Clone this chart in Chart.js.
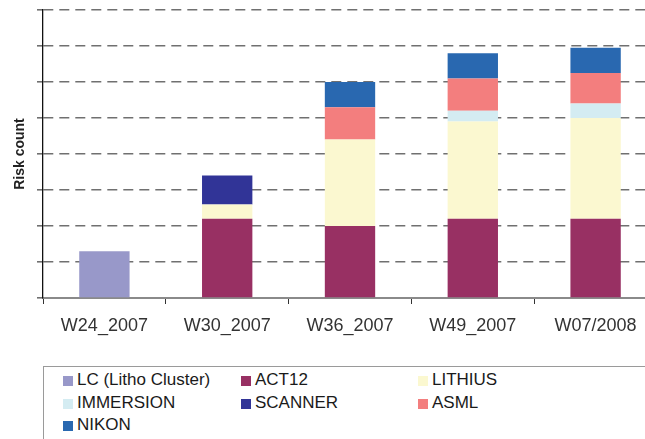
<!DOCTYPE html>
<html>
<head>
<meta charset="utf-8">
<script src="https://cdn.jsdelivr.net/npm/chart.js@4"></script>
<style>
  html, body { margin: 0; padding: 0; background: #fff; overflow: hidden; }
  #wrap { position: relative; width: 660px; height: 345px; }
  #legend {
    position: absolute; left: 43px; top: 366px; width: 640px; height: 90px;
    border: 1px solid #9a9a9a; box-sizing: border-box;
    font-family: "Liberation Sans", Arial, sans-serif; font-size: 17px; color: #1a1a1a;
  }
  .item { position: absolute; height: 20px; line-height: 20px; white-space: nowrap; }
  .item i { display: inline-block; width: 10px; height: 10px; margin-right: 4px; vertical-align: -1px; }
</style>
</head>
<body>
<div id="wrap"><canvas id="riskChart"></canvas></div>
<div id="legend"></div>
<script>
const weeks = ['W24_2007', 'W30_2007', 'W36_2007', 'W49_2007', 'W07/2008'];

const lcData        = [13, null, null, null, null];
const act12Data     = [null, 22, 20, 22, 22];
const lithiusData   = [null, 4, 24, 27, 28];
const immersionData = [null, null, null, 3, 4];
const scannerData   = [null, 8, null, null, null];
const asmlData      = [null, null, 9, 9, 8.5];
const nikonData     = [null, null, 7, 7, 7];

const series = [
  { label: 'LC (Litho Cluster)', data: lcData,        color: '#9898c9' },
  { label: 'ACT12',              data: act12Data,     color: '#983063' },
  { label: 'LITHIUS',            data: lithiusData,   color: '#fbf8d0' },
  { label: 'IMMERSION',          data: immersionData, color: '#d4ecf2' },
  { label: 'SCANNER',            data: scannerData,   color: '#313497' },
  { label: 'ASML',               data: asmlData,      color: '#f37e7e' },
  { label: 'NIKON',              data: nikonData,     color: '#2968b0' }
];

const ctx = document.getElementById('riskChart');
const chart = new Chart(ctx, {
  type: 'bar',
  data: {
    labels: weeks,
    datasets: series.map(s => ({
      label: s.label,
      data: s.data,
      backgroundColor: s.color,
      borderWidth: 0,
      barPercentage: 0.41,
      categoryPercentage: 1
    }))
  },
  options: {
    responsive: true,
    maintainAspectRatio: false,
    animation: false,
    layout: { padding: { top: 10, right: 3, left: 0, bottom: 0 } },
    plugins: { legend: { display: false }, tooltip: { enabled: false } },
    scales: {
      x: {
        stacked: true,
        offset: true,
        afterFit: s => { s.height = 47; },
        grid: { offset: true, drawOnChartArea: false, tickLength: 6, color: '#333', lineWidth: 1 },
        border: { color: '#8a8a8a', width: 2 },
        ticks: {
          padding: 11,
          color: '#333',
          font: { family: '"Liberation Sans", Arial, sans-serif', size: 18 }
        }
      },
      y: {
        stacked: true,
        min: 0,
        max: 80,
        afterFit: s => { s.width = 43; },
        ticks: { display: false, stepSize: 10 },
        grid: {
          color: c => c.tick && c.tick.value === 0 ? '#8a8a8a' : '#707070',
          lineWidth: 1.6,
          tickLength: 6,
          tickColor: '#707070',
          tickBorderDash: []
        },
        border: { color: '#111', width: 1.3, dash: [10, 6] },
        title: {
          display: true,
          text: 'Risk count',
          color: '#222',
          padding: { top: 12, bottom: 0 },
          font: { family: '"Liberation Sans", Arial, sans-serif', size: 14, weight: 'bold' }
        }
      }
    }
  }
});

// legend: three columns, filled row by row
const legend = document.getElementById('legend');
const colX = [19, 197, 374];
const rowY = [3, 25.5, 48];
series.forEach((s, i) => {
  const el = document.createElement('div');
  el.className = 'item';
  el.style.left = colX[i % 3] + 'px';
  el.style.top = rowY[Math.floor(i / 3)] + 'px';
  el.innerHTML = '<i style="background:' + s.color + '"></i>' + s.label;
  legend.appendChild(el);
});
</script>
</body>
</html>
